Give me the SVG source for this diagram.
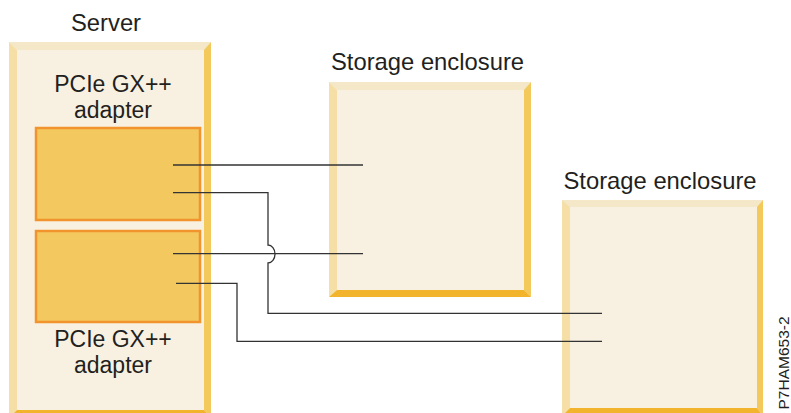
<svg xmlns="http://www.w3.org/2000/svg" width="791" height="413" viewBox="0 0 791 413">
<style>
.lbl{font-family:"Liberation Sans",Arial,sans-serif;font-size:23.8px;fill:#231f20;text-anchor:middle}
.sm{font-size:23px}
.fill{fill:#f8f1e1}
.top{fill:#f4e8c8}
.left{fill:#f6dfa7}
.right{fill:#f4c95b}
.bot{fill:#f2b42c}
.adp{fill:#f3c95f;stroke:#f1942e;stroke-width:2.5}
.wire{fill:none;stroke:#333333;stroke-width:1.3}
</style>
<rect width="791" height="413" fill="#ffffff"/>
<g id="server">
<rect class="fill" x="9" y="42" width="202" height="376"/>
<polygon class="top" points="9,42 211,42 204,50 17,50"/>
<polygon class="left" points="9,42 17,50 17,410 9,418"/>
<polygon class="right" points="211,42 211,418 204,410 204,50"/>
<polygon class="bot" points="9,418 211,418 204,410 17,410"/>
<text class="lbl" x="106" y="31">Server</text>
</g>
<g id="adapter1">
<rect class="adp" x="36" y="128" width="164" height="92"/>
<text class="lbl sm" x="113" y="92">PCIe GX++</text>
<text class="lbl sm" x="113" y="118">adapter</text>
</g>
<g id="adapter2">
<rect class="adp" x="36" y="231" width="164" height="91"/>
<text class="lbl sm" x="113" y="347">PCIe GX++</text>
<text class="lbl sm" x="113" y="373">adapter</text>
</g>
<g id="enclosure1">
<rect class="fill" x="329" y="82" width="202" height="215"/>
<polygon class="top" points="329,82 531,82 524,90 337,90"/>
<polygon class="left" points="329,82 337,90 337,290 329,297"/>
<polygon class="right" points="531,82 531,297 524,290 524,90"/>
<polygon class="bot" points="329,297 531,297 524,290 337,290"/>
<text class="lbl" x="427.5" y="70">Storage enclosure</text>
</g>
<g id="enclosure2">
<rect class="fill" x="562" y="200" width="201" height="216"/>
<polygon class="top" points="562,200 763,200 757,207 570,207"/>
<polygon class="left" points="562,200 570,207 570,408 562,416"/>
<polygon class="right" points="763,200 763,416 757,408 757,207"/>
<polygon class="bot" points="562,416 763,416 757,408 570,408"/>
<text class="lbl" x="660" y="189">Storage enclosure</text>
</g>
<g id="connectors">
<path class="wire" d="M173,165 H363"/>
<path class="wire" d="M173,192.7 H268 V245 A7 9 0 0 1 268,263 V313.3 H602"/>
<path class="wire" d="M173,253.7 H363"/>
<path class="wire" d="M176,283.3 H237 V341.3 H602"/>
</g>
<text font-family="'Liberation Sans',Arial,sans-serif" font-size="15.5" fill="#231f20" text-anchor="middle" transform="translate(789,363) rotate(-90)">P7HAM653-2</text>
</svg>
